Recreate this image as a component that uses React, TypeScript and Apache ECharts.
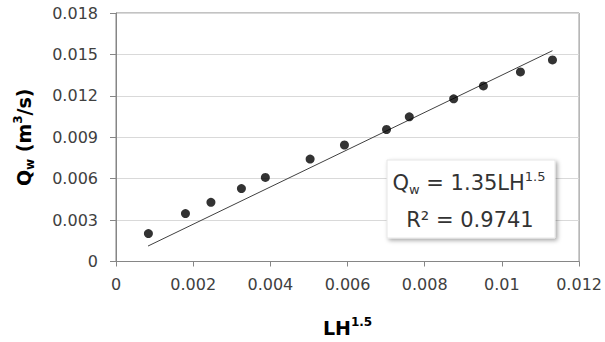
import React, { useEffect, useRef } from "react";
import * as echarts from "echarts";

const xValues = [0.00084, 0.0018, 0.00246, 0.00325, 0.00387, 0.00503, 0.00592, 0.00701, 0.0076, 0.00875, 0.00952, 0.01048, 0.01131];
const yValues = [0.00202, 0.00347, 0.00429, 0.00528, 0.00609, 0.00742, 0.00844, 0.00956, 0.01048, 0.01178, 0.01272, 0.01373, 0.0146];
const trendX = [0.00083, 0.01131];
const trendY = [0.00112, 0.01527];
const xTickLabels = ["0", "0.002", "0.004", "0.006", "0.008", "0.01", "0.012"];
const yTickLabels = ["0", "0.003", "0.006", "0.009", "0.012", "0.015", "0.018"];

const FONT = "DejaVu Sans";

export default function App() {
  const ref = useRef<HTMLDivElement>(null);
  useEffect(() => {
    document.body.style.margin = "0";
    const chart = echarts.init(ref.current!, null, { renderer: "svg" });
    const axisColor = "#868686";
    chart.setOption({
      animation: false,
      textStyle: { fontFamily: FONT },
      grid: { left: 116, right: 25, top: 13, bottom: 80, show: true, borderColor: axisColor, borderWidth: 1, backgroundColor: "transparent" },
      xAxis: {
        type: "value",
        min: 0,
        max: 0.012,
        interval: 0.002,
        axisLine: { show: true, onZero: false, lineStyle: { color: axisColor, width: 1 } },
        axisTick: { show: true, inside: false, length: 5, lineStyle: { color: axisColor } },
        splitLine: { show: false },
        axisLabel: {
          fontFamily: FONT,
          fontSize: 16,
          color: "#404040",
          margin: 15,
          formatter: (v: number) => xTickLabels[Math.round(v / 0.002)] ?? "",
        },
        name: "{b|LH}{sup|1.5}",
        nameLocation: "middle",
        nameGap: 54,
        nameTextStyle: {
          rich: {
            b: { fontFamily: FONT, fontSize: 19, fontWeight: "bold", color: "#000", lineHeight: 24 },
            sup: { fontFamily: FONT, fontSize: 12, fontWeight: "bold", color: "#000", lineHeight: 14, verticalAlign: "top" },
          },
        },
      },
      yAxis: {
        type: "value",
        min: 0,
        max: 0.018,
        interval: 0.003,
        axisLine: { show: true, onZero: false, lineStyle: { color: axisColor, width: 1 } },
        axisTick: { show: true, inside: false, length: 6, lineStyle: { color: axisColor } },
        splitLine: { show: true, lineStyle: { color: "#d9d9d9", width: 1 } },
        axisLabel: {
          fontFamily: FONT,
          fontSize: 16,
          color: "#404040",
          margin: 18,
          formatter: (v: number) => yTickLabels[Math.round(v / 0.003)] ?? "",
        },
        name: "{b|Q}{sub|w}{b| (m}{sup|3}{b|/s)}",
        nameLocation: "middle",
        nameRotate: 90,
        nameGap: 80,
        nameTextStyle: {
          rich: {
            b: { fontFamily: FONT, fontSize: 19, fontWeight: "bold", color: "#000", lineHeight: 24 },
            sub: { fontFamily: FONT, fontSize: 12, fontWeight: "bold", color: "#000", lineHeight: 14, verticalAlign: "bottom" },
            sup: { fontFamily: FONT, fontSize: 12, fontWeight: "bold", color: "#000", lineHeight: 14, verticalAlign: "top" },
          },
        },
      },
      series: [
        {
          type: "line",
          data: trendX.map((x, i) => [x, trendY[i]]),
          showSymbol: false,
          symbol: "none",
          lineStyle: { color: "#404040", width: 1 },
          z: 2,
        },
        {
          type: "scatter",
          data: xValues.map((x, i) => [x, yValues[i]]),
          symbol: "circle",
          symbolSize: 9,
          itemStyle: { color: "#000" },
          z: 3,
        },
      ],
      graphic: [
        {
          type: "rect",
          z: 10,
          shape: { x: 387, y: 160, width: 168, height: 78 },
          style: {
            fill: "#fff",
            stroke: "#e6e6e6",
            lineWidth: 1,
            shadowBlur: 4,
            shadowOffsetX: 2,
            shadowOffsetY: 2,
            shadowColor: "rgba(0,0,0,0.35)",
          },
        },
        {
          type: "text",
          z: 11,
          x: 469,
          y: 183,
          style: {
            text: "{n|Q}{sub|w}{n| = 1.35LH}{sup|1.5}",
            align: "center",
            verticalAlign: "middle",
            rich: {
              n: { fontFamily: FONT, fontSize: 21, fill: "#333", lineHeight: 26 },
              sub: { fontFamily: FONT, fontSize: 13, fill: "#333", lineHeight: 16, verticalAlign: "bottom" },
              sup: { fontFamily: FONT, fontSize: 13, fill: "#333", lineHeight: 16, verticalAlign: "top" },
            },
          },
        },
        {
          type: "text",
          z: 11,
          x: 470,
          y: 220,
          style: {
            text: "R² = 0.9741",
            align: "center",
            verticalAlign: "middle",
            fontFamily: FONT,
            fontSize: 21,
            fill: "#333",
          },
        },
      ],
    });
    return () => chart.dispose();
  }, []);
  return <div ref={ref} style={{ position: "absolute", left: 0, top: 0, width: 605, height: 342 }} />;
}
